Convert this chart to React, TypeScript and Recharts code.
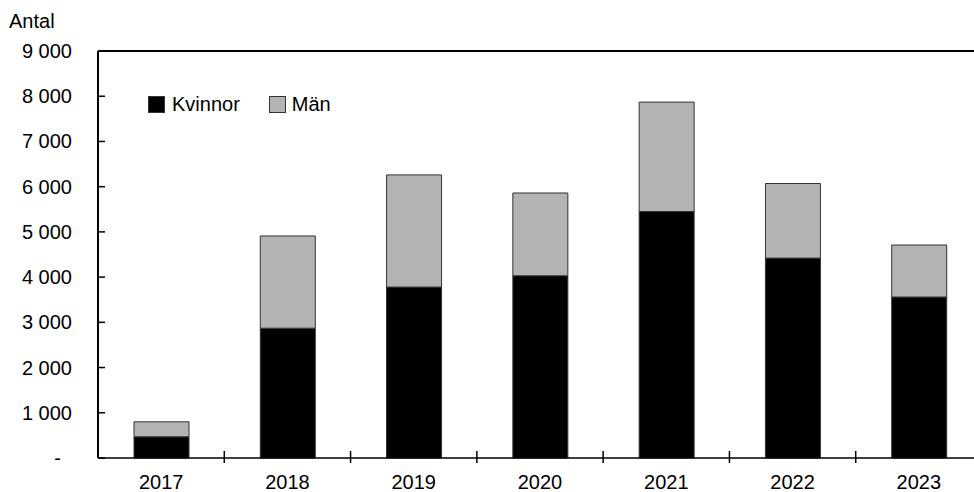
import React from "react";
import {
  BarChart,
  Bar,
  XAxis,
  YAxis,
  ReferenceLine,
} from "recharts";

const years = ["2017", "2018", "2019", "2020", "2021", "2022", "2023"];
const kvinnor = [470, 2870, 3780, 4030, 5450, 4420, 3560];
const man = [330, 2040, 2480, 1830, 2420, 1650, 1150];
const yTicks = [0, 1000, 2000, 3000, 4000, 5000, 6000, 7000, 8000, 9000];

const data = years.map((year, i) => ({
  year,
  kvinnor: kvinnor[i],
  man: man[i],
}));

const FONT = "'Liberation Sans', Arial, sans-serif";
const CHART_W = 982;
const Y_AXIS_W = 98;
const BAND = (CHART_W - Y_AXIS_W) / years.length;

const fmt = (v: number) =>
  v === 0 ? "-" : String(v).replace(/\B(?=(\d{3})+(?!\d))/g, " ");

const YTick = (props: any) => {
  const { x, y, payload } = props;
  const isZero = payload.value === 0;
  return (
    <g>
      <line x1={x} x2={x + 7} y1={y} y2={y} stroke="#000" strokeWidth={1.5} />
      <text
        x={x - 26 - (isZero ? 11 : 0)}
        y={y}
        dy="0.35em"
        textAnchor="end"
        fontSize={20}
        fontFamily={FONT}
        fill="#000"
      >
        {fmt(payload.value)}
      </text>
    </g>
  );
};

// year label at band centre, boundary tick at the band's left edge
const XTick = (props: any) => {
  const { x, y, payload } = props;
  const bx = x - BAND / 2;
  return (
    <g>
      {payload.index > 0 && (
        <line x1={bx} x2={bx} y1={y - 7} y2={y + 5} stroke="#000" strokeWidth={1.5} />
      )}
      <text
        x={x}
        y={y + 17}
        dy="0.71em"
        textAnchor="middle"
        fontSize={20}
        fontFamily={FONT}
        fill="#000"
      >
        {payload.value}
      </text>
    </g>
  );
};

const swatch = (bg: string) => ({
  width: 17,
  height: 17,
  background: bg,
  border: "1px solid #333",
  boxSizing: "border-box" as const,
  display: "inline-block",
});

export default function App() {
  return (
    <div
      style={{
        position: "fixed",
        left: 0,
        top: 0,
        width: 974,
        height: 492,
        overflow: "hidden",
        background: "#fff",
      }}
    >
      <div
        style={{
          position: "absolute",
          left: 9,
          top: 10,
          fontFamily: FONT,
          fontSize: 20,
          color: "#000",
        }}
      >
        Antal
      </div>
      <div
        style={{
          position: "absolute",
          left: 148,
          top: 93,
          zIndex: 2,
          display: "flex",
          alignItems: "center",
          fontFamily: FONT,
          fontSize: 20,
          color: "#000",
        }}
      >
        <span style={swatch("#000")} />
        <span style={{ marginLeft: 7, marginRight: 29 }}>Kvinnor</span>
        <span style={swatch("#b3b3b3")} />
        <span style={{ marginLeft: 6 }}>Män</span>
      </div>
      <BarChart
        width={CHART_W}
        height={492}
        data={data}
        margin={{ top: 51, right: 0, bottom: 0, left: 0 }}
        barSize={55}
      >
        <XAxis
          dataKey="year"
          height={34}
          axisLine={{ stroke: "#000", strokeWidth: 1.5 }}
          tickLine={false}
          tickSize={0}
          tickMargin={0}
          interval={0}
          tick={XTick}
        />
        <YAxis
          width={Y_AXIS_W}
          domain={[0, 9000]}
          ticks={yTicks}
          tickSize={0}
          tickMargin={0}
          tickLine={false}
          tick={YTick}
          axisLine={{ stroke: "#000", strokeWidth: 2 }}
        />
        <ReferenceLine y={9000} stroke="#000" strokeWidth={2} />
        <Bar
          dataKey="kvinnor"
          name="Kvinnor"
          stackId="a"
          fill="#000"
          stroke="#333"
          strokeWidth={1}
          isAnimationActive={false}
        />
        <Bar
          dataKey="man"
          name="Män"
          stackId="a"
          fill="#b3b3b3"
          stroke="#333"
          strokeWidth={1}
          isAnimationActive={false}
        />
      </BarChart>
    </div>
  );
}
